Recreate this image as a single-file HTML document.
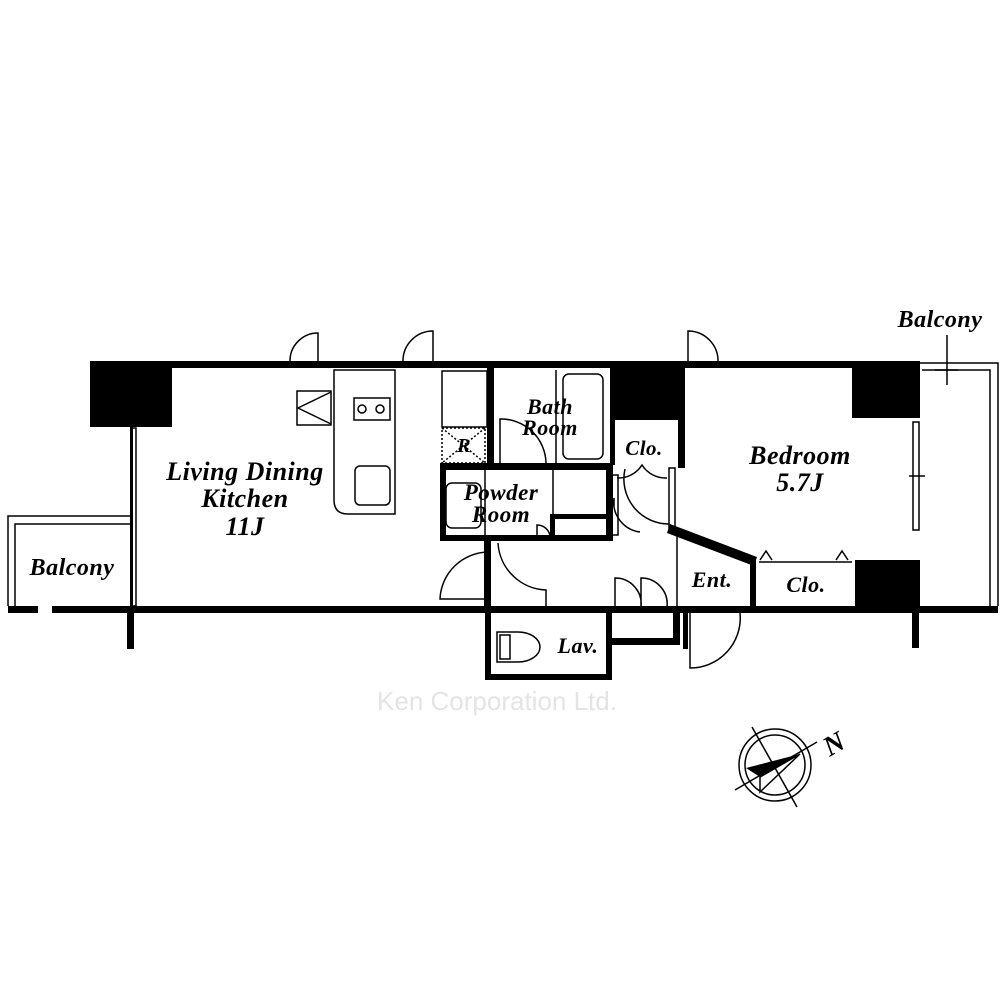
<!DOCTYPE html>
<html><head><meta charset="utf-8"><style>
body{margin:0;background:#fff}
svg{display:block}
text{font-family:"Liberation Serif",serif;font-weight:bold;font-style:italic;fill:#000;letter-spacing:0.5px}
</style></head><body>
<svg width="1000" height="1000" viewBox="0 0 1000 1000" xmlns="http://www.w3.org/2000/svg">
<g fill="none" stroke="#000" stroke-width="1.5">
<polyline points="8,606 8,516 130,516"/>
<polyline points="15,606 15,524 130,524"/>
<polyline points="920,363 998,363 998,606"/>
<polyline points="922,370 990,370 990,606"/>
<line x1="947" y1="335" x2="947" y2="385"/><line x1="935" y1="370" x2="958" y2="370"/>
<path d="M334,370 H395 V514 H348 Q334,514 334,500 Z"/>
<rect x="297" y="391" width="34" height="34"/>
<polyline points="331,392 298,408 331,424"/>
<rect x="354" y="398" width="36" height="22"/>
<circle cx="362" cy="409" r="4"/><circle cx="380" cy="409" r="4"/>
<rect x="355" y="466" width="35" height="39" rx="5"/>
<rect x="442" y="371" width="45" height="56"/>
<rect x="442" y="428" width="43" height="35" stroke-dasharray="2,2"/>
<line x1="442" y1="428" x2="485" y2="463" stroke-dasharray="2,2"/><line x1="485" y1="428" x2="442" y2="463" stroke-dasharray="2,2"/>
<line x1="556" y1="370" x2="556" y2="463"/>
<rect x="563" y="374" width="40" height="85" rx="6"/>
<path d="M500,463 V419 A45,45 0 0 1 546,463"/>
<rect x="446" y="483" width="35" height="45" rx="6"/>
<line x1="485" y1="470" x2="485" y2="536"/>
<line x1="553" y1="470" x2="553" y2="514"/>
<path d="M537,536 V525 A13,13 0 0 1 550,536"/>
<rect x="131" y="428" width="5" height="178"/>
<rect x="913" y="422" width="6" height="108"/>
<line x1="909" y1="476" x2="925" y2="476"/>
<path d="M318,362 V333 A28,28 0 0 0 290,362 Z"/>
<path d="M433,362 V331 A30,30 0 0 0 403,362"/>
<path d="M688,362 V331 A30,30 0 0 1 718,362"/>
<path d="M489,599 H440 A49,49 0 0 1 489,552"/>
<path d="M498,543 A50,50 0 0 0 546,590 V611 A30,30 0 0 1 576,611"/>
<path d="M615,607 V578 A26,26 0 0 1 641,607 V578 A26,26 0 0 1 667,607"/>
<path d="M617,478 A28,28 0 0 0 642,465 A28,28 0 0 0 667,478"/>
<path d="M625,469 A45,45 0 0 0 669,524"/>
<path d="M614,507 V498 A30,30 0 0 0 640,532"/>
<rect x="612" y="475" width="6" height="60"/>
<rect x="669" y="468" width="6" height="60"/>
<path d="M690,613 V668 A50,50 0 0 0 740,613"/>
<path d="M497,632 H518 A22,15 0 0 1 518,662 H497 Z"/><rect x="500" y="635" width="10" height="24"/>
<line x1="677" y1="530" x2="677" y2="607"/>
<polyline points="760,560 766,551 772,560"/><polyline points="836,560 842,551 848,560"/>
<line x1="759" y1="562" x2="852" y2="562"/>
</g>
<g fill="#000">
<rect x="90" y="361" width="830" height="7"/>
<rect x="90" y="361" width="82" height="66"/>
<rect x="8" y="606" width="30" height="7"/><rect x="52" y="606" width="946" height="7"/>
<rect x="130" y="427" width="3" height="180"/>
<rect x="127" y="606" width="7" height="43"/>
<rect x="487" y="368" width="7" height="95"/>
<rect x="440" y="463" width="173" height="7"/>
<rect x="440" y="463" width="6" height="78"/>
<rect x="440" y="535" width="173" height="6"/>
<rect x="606" y="463" width="7" height="78"/>
<rect x="553" y="514" width="54" height="5"/>
<rect x="550" y="514" width="5" height="22"/>
<rect x="610" y="368" width="75" height="52"/>
<rect x="610" y="368" width="5" height="97"/>
<rect x="678" y="368" width="7" height="100"/>
<rect x="484" y="541" width="7" height="70"/>
<rect x="852" y="368" width="68" height="50"/>
<rect x="855" y="560" width="65" height="53"/>
<rect x="750" y="560" width="6" height="50"/>
<rect x="912" y="613" width="7" height="35"/>
<rect x="485" y="613" width="6" height="67"/>
<rect x="485" y="674" width="127" height="6"/>
<rect x="606" y="613" width="6" height="67"/>
<rect x="606" y="638" width="74" height="7"/>
<rect x="673" y="613" width="7" height="32"/>
<rect x="683" y="613" width="5" height="36"/>
<polygon points="670,524 757,557 754,566 667,533"/>
</g>
<g fill="none" stroke="#000" stroke-width="1.5">
<circle cx="775" cy="765" r="36"/><circle cx="775" cy="765" r="30"/>
<line x1="735" y1="790" x2="817" y2="742"/><line x1="752" y1="727" x2="797" y2="807"/>
<polyline points="800,754 760,777 760,792 800,754"/>
</g>
<polygon points="800,754 746,768 760,777" fill="#000"/>
<text x="822" y="752" font-size="28" transform="rotate(-30 835 740)">N</text>
<text x="245" y="480" font-size="26" text-anchor="middle">Living Dining</text>
<text x="245" y="507" font-size="26" text-anchor="middle">Kitchen</text>
<text x="245" y="535" font-size="26" text-anchor="middle">11J</text>
<text x="72" y="575" font-size="24" text-anchor="middle">Balcony</text>
<text x="940" y="327" font-size="24" text-anchor="middle">Balcony</text>
<text x="550" y="414" font-size="22" text-anchor="middle">Bath</text>
<text x="550" y="435" font-size="22" text-anchor="middle">Room</text>
<text x="501" y="500" font-size="23" text-anchor="middle">Powder</text>
<text x="501" y="522" font-size="23" text-anchor="middle">Room</text>
<text x="464" y="452" font-size="20" text-anchor="middle">R</text>
<text x="644" y="455" font-size="21" text-anchor="middle">Clo.</text>
<text x="800" y="464" font-size="26" text-anchor="middle">Bedroom</text>
<text x="800" y="491" font-size="26" text-anchor="middle">5.7J</text>
<text x="712" y="587" font-size="22" text-anchor="middle">Ent.</text>
<text x="806" y="592" font-size="22" text-anchor="middle">Clo.</text>
<text x="578" y="653" font-size="22" text-anchor="middle">Lav.</text>
<text x="497" y="710" font-size="26" text-anchor="middle" style="font-family:'Liberation Sans',sans-serif;font-weight:normal;font-style:normal;fill:#e4e4e4;letter-spacing:0">Ken Corporation Ltd.</text>
</svg>
</body></html>
